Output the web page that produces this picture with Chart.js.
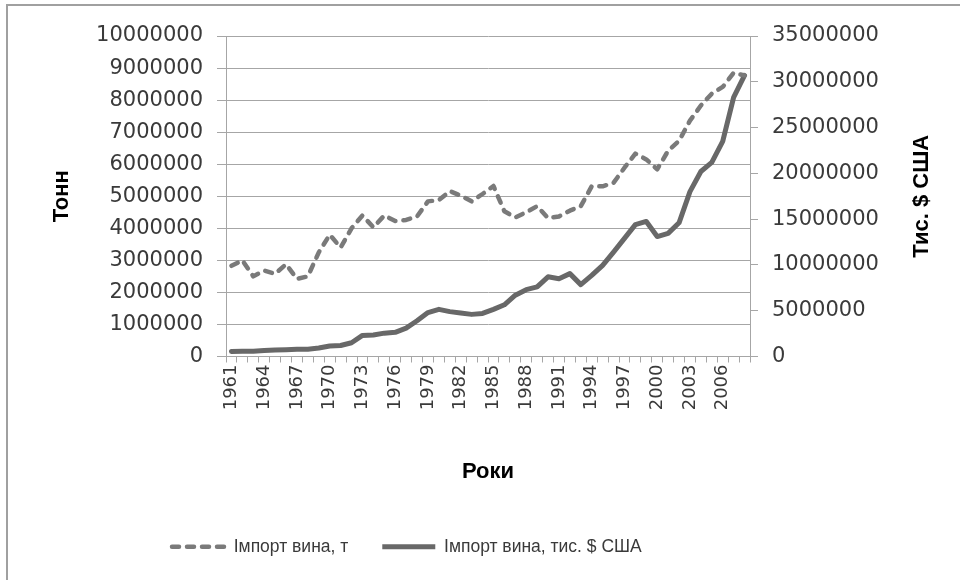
<!DOCTYPE html>
<html>
<head>
<meta charset="utf-8">
<script src="https://cdn.jsdelivr.net/npm/chart.js@4"></script>
<style>
  html, body { margin: 0; padding: 0; background: #fff; overflow: hidden; }
  #wrap { position: relative; width: 960px; height: 580px; }
  #frame { position: absolute; left: 6px; top: 4px; width: 1000px; height: 1000px;
           border-left: 2px solid #a0a0a0; border-top: 2px solid #a0a0a0; pointer-events: none; }
  canvas { position: absolute; left: 0; top: 0; }
</style>
</head>
<body>
<div id="wrap">
  <canvas id="c" width="960" height="580"></canvas>
  <div id="frame"></div>
</div>
<script>
const years = ['1961','1962','1963','1964','1965','1966','1967','1968','1969','1970',
  '1971','1972','1973','1974','1975','1976','1977','1978','1979','1980',
  '1981','1982','1983','1984','1985','1986','1987','1988','1989','1990',
  '1991','1992','1993','1994','1995','1996','1997','1998','1999','2000',
  '2001','2002','2003','2004','2005','2006','2007','2008'];

const shownYears = ['1961','1964','1967','1970','1973','1976','1979','1982','1985',
  '1988','1991','1994','1997','2000','2003','2006'];

// Імпорт вина, т (left axis)
const importTonnes = [2830000, 3000000, 2500000, 2680000, 2580000, 2880000, 2420000, 2500000, 3250000, 3800000,
  3400000, 4000000, 4400000, 4030000, 4400000, 4230000, 4260000, 4370000, 4840000, 4880000,
  5160000, 5020000, 4840000, 5070000, 5320000, 4530000, 4340000, 4500000, 4690000, 4320000,
  4370000, 4550000, 4690000, 5310000, 5310000, 5420000, 5890000, 6330000, 6150000, 5840000,
  6420000, 6730000, 7360000, 7830000, 8200000, 8410000, 8850000, 8770000];

// Імпорт вина, тис. $ США (right axis)
const importUsd = [550000, 560000, 580000, 650000, 700000, 750000, 780000, 800000, 920000, 1150000,
  1200000, 1500000, 2300000, 2350000, 2550000, 2640000, 3100000, 3900000, 4800000, 5150000,
  4900000, 4750000, 4600000, 4700000, 5150000, 5650000, 6700000, 7300000, 7600000, 8700000,
  8500000, 9050000, 7850000, 8850000, 9950000, 11400000, 12900000, 14400000, 14750000, 13100000,
  13450000, 14600000, 18000000, 20200000, 21200000, 23500000, 28300000, 30700000];

const leftTicks = [0, 1000000, 2000000, 3000000, 4000000, 5000000, 6000000, 7000000, 8000000, 9000000, 10000000];
const rightTicks = [0, 5000000, 10000000, 15000000, 20000000, 25000000, 30000000, 35000000];

const seriesNames = ['Імпорт вина, т', 'Імпорт вина, тис. $ США'];
const axisTitles = { left: 'Тонн', right: 'Тис. $ США', bottom: 'Роки' };

const GRID = '#a6a6a6';
const TEXT = '#3a3a3a';

const extraPlugin = {
  id: 'extra',
  afterLayout(chart) {
    const lg = chart.legend;
    if (lg) {
      const pad = lg.options.labels.padding;
      lg.left = 172 - pad;
      lg.top = 547 - pad - 9;
    }
  },
  afterDraw(chart) {
    const ctx = chart.ctx;
    const a = chart.chartArea;
    ctx.save();
    ctx.translate(922, (a.top + a.bottom) / 2);
    ctx.rotate(-Math.PI / 2);
    ctx.font = 'bold 22px "Liberation Sans"';
    ctx.fillStyle = '#000';
    ctx.textAlign = 'center';
    ctx.textBaseline = 'middle';
    ctx.fillText(axisTitles.right, 0, 0);
    ctx.restore();
  }
};

new Chart(document.getElementById('c'), {
  type: 'line',
  data: {
    labels: years,
    datasets: [
      {
        label: seriesNames[0],
        data: importTonnes,
        yAxisID: 'y',
        borderColor: '#7a7a7a',
        backgroundColor: '#7a7a7a',
        borderWidth: 4.5,
        borderDash: [7, 8],
        borderCapStyle: 'round',
        borderJoinStyle: 'round',
        pointRadius: 0,
        tension: 0,
        fill: false
      },
      {
        label: seriesNames[1],
        data: importUsd,
        yAxisID: 'y1',
        borderColor: '#686868',
        backgroundColor: '#686868',
        borderWidth: 5,
        borderCapStyle: 'round',
        borderJoinStyle: 'round',
        pointRadius: 0,
        tension: 0,
        fill: false
      }
    ]
  },
  options: {
    responsive: false,
    animation: false,
    devicePixelRatio: 1,
    layout: { padding: { top: 36, bottom: 0, left: 0, right: 0 } },
    plugins: {
      tooltip: { enabled: false },
      legend: {
        position: 'bottom',
        align: 'start',
        labels: {
          usePointStyle: true,
          pointStyle: 'line',
          pointStyleWidth: 53,
          padding: 34,
          color: TEXT,
          font: { family: '"Liberation Sans"', size: 17.5 },
          generateLabels(chart) {
            return chart.data.datasets.map((ds, i) => ({
              text: ds.label,
              datasetIndex: i,
              fillStyle: ds.borderColor,
              strokeStyle: ds.borderColor,
              fontColor: TEXT,
              lineWidth: ds.borderWidth,
              lineDash: ds.borderDash || [],
              lineCap: ds.borderDash ? 'round' : 'butt',
              pointStyle: 'line',
              hidden: false
            }));
          }
        }
      }
    },
    scales: {
      x: {
        type: 'category',
        offset: true,
        afterFit(scale) { scale.height = 162; },
        grid: {
          offset: true,
          drawOnChartArea: false,
          drawTicks: true,
          tickLength: 6,
          color: GRID,
          tickColor: GRID
        },
        border: { display: true, color: GRID, width: 1 },
        ticks: {
          autoSkip: false,
          minRotation: 90,
          maxRotation: 90,
          padding: 2,
          color: TEXT,
          font: { family: '"DejaVu Sans"', size: 18 },
          callback(value, index) {
            const y = years[index];
            return shownYears.includes(y) ? y : '';
          }
        },
        title: {
          display: true,
          text: axisTitles.bottom,
          color: '#000',
          font: { family: '"Liberation Sans"', size: 22, weight: 'bold' },
          padding: { top: 0, bottom: 33 }
        }
      },
      y: {
        position: 'left',
        min: 0,
        max: 10000000,
        afterFit(scale) { scale.width = 226; },
        afterBuildTicks(scale) { scale.ticks = leftTicks.map(v => ({ value: v })); },
        grid: {
          color: GRID,
          tickColor: GRID,
          tickLength: 9,
          drawTicks: true
        },
        border: { display: true, color: GRID, width: 1 },
        ticks: {
          padding: 14,
          color: TEXT,
          font: { family: '"DejaVu Sans"', size: 21 },
          callback(v) { return String(v); }
        },
        title: {
          display: true,
          text: axisTitles.left,
          color: '#000',
          font: { family: '"Liberation Sans"', size: 22, weight: 'bold' },
          padding: { top: 49, bottom: 0 }
        }
      },
      y1: {
        position: 'right',
        min: 0,
        max: 35000000,
        afterFit(scale) { scale.width = 210; },
        afterBuildTicks(scale) { scale.ticks = rightTicks.map(v => ({ value: v })); },
        grid: {
          drawOnChartArea: false,
          color: GRID,
          tickColor: GRID,
          tickLength: 8,
          drawTicks: true
        },
        border: { display: true, color: GRID, width: 1 },
        ticks: {
          padding: 14,
          color: TEXT,
          font: { family: '"DejaVu Sans"', size: 21 },
          callback(v) { return String(v); }
        }
      }
    }
  },
  plugins: [extraPlugin]
});
</script>
</body>
</html>
